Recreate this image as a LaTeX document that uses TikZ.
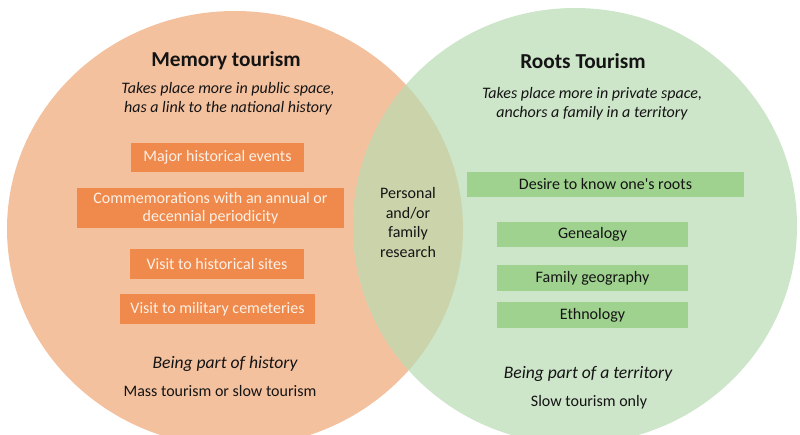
\documentclass[tikz,border=0pt]{standalone}
\usepackage{fontspec}
\setmainfont{Carlito}[Ligatures=TeXOff]
\definecolor{orangebg}{HTML}{F4C19F}
\definecolor{greenbg}{HTML}{CDE5C9}
\definecolor{lensbg}{HTML}{CAD3AA}
\definecolor{orangebox}{HTML}{EF8A4C}
\definecolor{greenbox}{HTML}{9FD18F}
\definecolor{boxtext}{HTML}{FDF0E6}
\definecolor{ink}{HTML}{141414}
\begin{document}
\begin{tikzpicture}[x=1pt,y=-1pt,
  title/.style={inner sep=0pt, text=ink, font=\fontsize{21.3}{24}\selectfont\bfseries},
  subtitle/.style={inner sep=0pt, text=ink, align=center, font=\fontsize{16}{19}\selectfont\itshape},
  motto/.style={inner sep=0pt, text=ink, font=\fontsize{17.6}{20}\selectfont\itshape},
  plain/.style={inner sep=0pt, text=ink, align=center, font=\fontsize{16}{19.7}\selectfont},
  obox/.style={fill=orangebox, text=boxtext, inner sep=0pt, align=center, font=\fontsize{16}{17.5}\selectfont},
  gbox/.style={fill=greenbox, text=ink, inner sep=0pt, align=center, font=\fontsize{16}{17.5}\selectfont}]
\useasboundingbox (0,0) rectangle (800,435);
\fill[orangebg] (235,229) ellipse [x radius=228pt, y radius=218pt];
\fill[greenbg] (575,226) ellipse [x radius=222pt, y radius=218pt];
\begin{scope}
  \clip (235,229) ellipse [x radius=228pt, y radius=218pt];
  \fill[lensbg] (575,226) ellipse [x radius=222pt, y radius=218pt];
\end{scope}

% left circle
\node[title] (mt) at (226,61) {Memory tourism};
\node[subtitle] (ms) at (228,98.5) {Takes place more in public space,\\ has a link to the national history};
\node[obox, minimum width=173pt, minimum height=29pt] (o1) at (217.5,157.5) {Major historical events};
\node[obox, minimum width=267pt, minimum height=40pt] (o2) at (210.5,208) {Commemorations with an annual or\\decennial periodicity};
\node[obox, minimum width=174pt, minimum height=30pt] (o3) at (217,264) {Visit to historical sites};
\node[obox, minimum width=195pt, minimum height=30pt] (o4) at (217.5,309) {Visit to military cemeteries};
\node[motto] (mh) at (225,364) {Being part of history};
\node[plain] (mm) at (220,391) {Mass tourism or slow tourism};

% lens
\node[plain] (lens) at (408,222.5) {Personal\\and/or\\family\\research};

% right circle
\node[title] (rt) at (583,61) {Roots Tourism};
\node[subtitle] (rs) at (592,103.5) {Takes place more in private space,\\ anchors a family in a territory};
\node[gbox, minimum width=277pt, minimum height=25pt] (g1) at (605.5,184.5) {Desire to know one's roots};
\node[gbox, minimum width=191pt, minimum height=25pt] (g2) at (592.5,234.5) {Genealogy};
\node[gbox, minimum width=191pt, minimum height=26pt] (g3) at (592.5,278) {Family geography};
\node[gbox, minimum width=191pt, minimum height=26pt] (g4) at (592.5,315) {Ethnology};
\node[motto] (rh) at (588,374) {Being part of a territory};
\node[plain] (rm) at (589,402) {Slow tourism only};
\end{tikzpicture}
\end{document}
